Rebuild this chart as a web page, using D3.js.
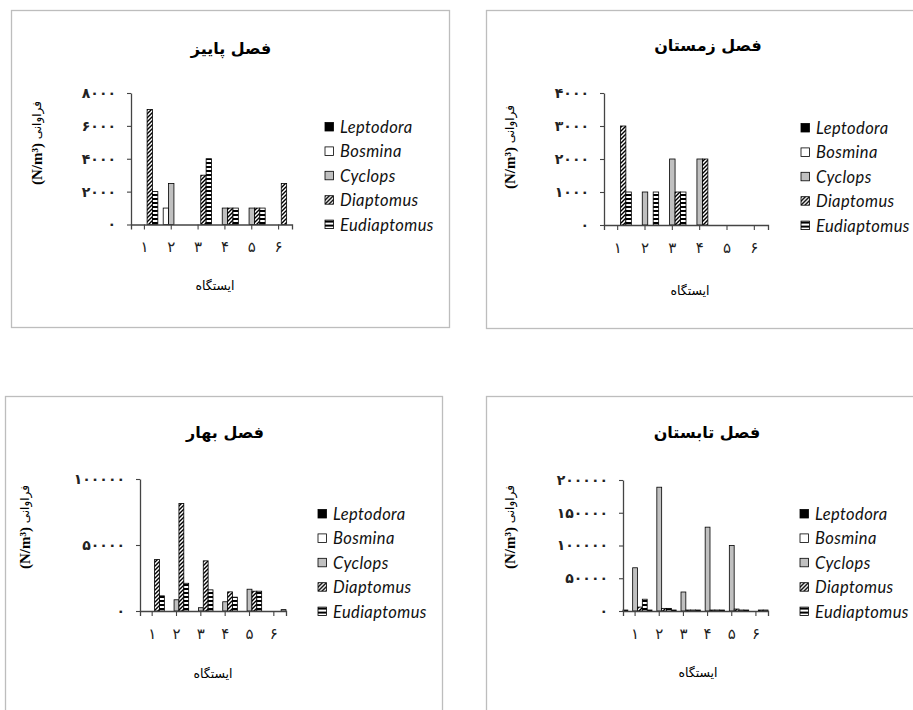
<!DOCTYPE html>
<html>
<head>
<meta charset="utf-8">
<script src="https://cdn.jsdelivr.net/npm/d3@7"></script>
<style>
  body { margin: 0; background: #fff; }
  .axis path, .axis line { stroke: #444; }
  .axis text { font-family: 'DejaVu Sans'; fill: #222; }
</style>
</head>
<body>
<div class="chart"></div>
<script>
// DATA ------------------------------------
const stations = ['1', '2', '3', '4', '5', '6']
const species = ['Leptodora', 'Bosmina', 'Cyclops', 'Diaptomus', 'Eudiaptomus']
const seasonTitles = ['فصل پاییز', 'فصل زمستان', 'فصل بهار', 'فصل تابستان']
const yTitle = 'فراوانی'
const yUnit = '(N/m³)'
const xTitle = 'ایستگاه'

// autumn (پاییز)
const autumnLeptodora = [0, 0, 0, 0, 0, 0]
const autumnBosmina = [0, 1000, 0, 0, 0, 0]
const autumnCyclops = [0, 2500, 0, 1000, 1000, 0]
const autumnDiaptomus = [7000, 0, 3000, 1000, 1000, 2500]
const autumnEudiaptomus = [2000, 0, 4000, 1000, 1000, 0]
const autumnTicks = [0, 2000, 4000, 6000, 8000]

// winter (زمستان)
const winterLeptodora = [0, 0, 0, 0, 0, 0]
const winterBosmina = [0, 0, 0, 0, 0, 0]
const winterCyclops = [0, 1000, 2000, 2000, 0, 0]
const winterDiaptomus = [3000, 0, 1000, 2000, 0, 0]
const winterEudiaptomus = [1000, 1000, 1000, 0, 0, 0]
const winterTicks = [0, 1000, 2000, 3000, 4000]

// spring (بهار)
const springLeptodora = [0, 0, 0, 0, 0, 0]
const springBosmina = [0, 0, 0, 0, 0, 0]
const springCyclops = [0, 8500, 2500, 7000, 16500, 0]
const springDiaptomus = [39000, 81500, 38000, 14500, 15000, 0]
const springEudiaptomus = [11500, 21000, 16000, 10500, 15000, 1000]
const springTicks = [0, 50000, 100000]

// summer (تابستان)
const summerLeptodora = [1500, 1500, 1500, 1500, 1500, 1500]
const summerBosmina = [0, 0, 0, 0, 0, 0]
const summerCyclops = [66000, 189000, 29000, 128000, 100000, 0]
const summerDiaptomus = [6000, 4000, 1500, 1500, 3000, 1500]
const summerEudiaptomus = [18000, 4000, 1500, 1500, 1500, 1500]
const summerTicks = [0, 50000, 100000, 150000, 200000]

const seasons = [
  { title: seasonTitles[0], ticks: autumnTicks,
    series: [autumnLeptodora, autumnBosmina, autumnCyclops, autumnDiaptomus, autumnEudiaptomus] },
  { title: seasonTitles[1], ticks: winterTicks,
    series: [winterLeptodora, winterBosmina, winterCyclops, winterDiaptomus, winterEudiaptomus] },
  { title: seasonTitles[2], ticks: springTicks,
    series: [springLeptodora, springBosmina, springCyclops, springDiaptomus, springEudiaptomus] },
  { title: seasonTitles[3], ticks: summerTicks,
    series: [summerLeptodora, summerBosmina, summerCyclops, summerDiaptomus, summerEudiaptomus] },
]

// LAYOUT ----------------------------------
const panels = [
  { x: 11, y: 10, w: 438, h: 317, left: 120, right: 281, top: 83, bottom: 214.5,
    titleX: 220, titleY: 38, legendX: 314, legendY: 117, ylabX: 26, ylabY: 133, xtitleX: 204, xtitleY: 275 },
  { x: 486, y: 10, w: 440, h: 318, left: 118, right: 282, top: 83, bottom: 215,
    titleX: 222, titleY: 35, legendX: 315, legendY: 118, ylabX: 24, ylabY: 137, xtitleX: 204, xtitleY: 280 },
  { x: 5, y: 396, w: 437, h: 330, left: 135, right: 281, top: 83, bottom: 215,
    titleX: 220, titleY: 36, legendX: 313, legendY: 118, ylabX: 20, ylabY: 131, xtitleX: 208, xtitleY: 277 },
  { x: 486, y: 396, w: 440, h: 330, left: 137, right: 282, top: 84, bottom: 215,
    titleX: 221, titleY: 36, legendX: 314, legendY: 118, ylabX: 24, ylabY: 131, xtitleX: 212, xtitleY: 276 },
]
const fills = ['#000', '#fff', '#c0c0c0', 'url(#diag)', 'url(#horiz)']
const legendStep = 24.4

const faDigits = s => String(s).replace(/\d/g, d => '۰۱۲۳۴۵۶۷۸۹'[d])

// CHART INIT ------------------------------
const svg = d3.select('.chart')
  .append('svg')
  .attr('width', 913)
  .attr('height', 710)
  .style('display', 'block')

const defs = svg.append('defs')
const diag = defs.append('pattern')
  .attr('id', 'diag')
  .attr('patternUnits', 'userSpaceOnUse')
  .attr('width', 4).attr('height', 4)
diag.append('rect').attr('width', 4).attr('height', 4).attr('fill', '#fff')
diag.append('path')
  .attr('d', 'M-1,1 l2,-2 M0,4 l4,-4 M3,5 l2,-2')
  .attr('stroke', '#000').attr('stroke-width', 1.4)

const horiz = defs.append('pattern')
  .attr('id', 'horiz')
  .attr('patternUnits', 'userSpaceOnUse')
  .attr('width', 4).attr('height', 4)
horiz.append('rect').attr('width', 4).attr('height', 4).attr('fill', '#fff')
horiz.append('rect').attr('width', 4).attr('height', 2).attr('fill', '#000')

// PANELS ----------------------------------
seasons.forEach((season, k) => {
  const p = panels[k]
  const g = svg.append('g').attr('transform', `translate(${p.x},${p.y})`)

  g.append('rect')
    .attr('x', 0.5).attr('y', 0.5)
    .attr('width', p.w).attr('height', p.h)
    .attr('fill', '#fff')
    .attr('stroke', '#bdbdbd')
    .attr('stroke-width', 1.3)

  const xScale = d3.scaleBand()
    .domain(stations)
    .range([p.left, p.right])
    .paddingInner(0)

  const xSub = d3.scaleBand()
    .domain(species)
    .range([0, xScale.bandwidth()])

  const yScale = d3.scaleLinear()
    .domain([0, d3.max(season.ticks)])
    .range([p.bottom, p.top])

  // bars
  species.forEach((sp, j) => {
    g.append('g')
      .selectAll('rect')
      .data(season.series[j].map((v, i) => ({ station: stations[i], value: v })).filter(d => d.value > 0))
      .enter()
      .append('rect')
      .attr('x', d => xScale(d.station) + xSub(sp))
      .attr('y', d => yScale(d.value))
      .attr('width', xSub.bandwidth())
      .attr('height', d => yScale(0) - yScale(d.value))
      .attr('fill', fills[j])
      .attr('stroke', '#000')
      .attr('stroke-width', 0.8)
  })

  // axes
  const yAxis = d3.axisLeft(yScale)
    .tickValues(season.ticks)
    .tickSize(4)
    .tickSizeOuter(0)
    .tickPadding(11)
    .tickFormat(faDigits)

  const xAxis = d3.axisBottom(xScale)
    .tickSize(5)
    .tickSizeOuter(5)
    .tickPadding(12)
    .tickFormat(faDigits)

  g.append('g')
    .attr('class', 'axis y-axis')
    .attr('transform', `translate(${p.left},0)`)
    .call(yAxis)
    .selectAll('text')
    .attr('font-size', 14)
    .attr('font-weight', 'bold')
    .attr('letter-spacing', 0.3)

  g.append('g')
    .attr('class', 'axis x-axis')
    .attr('transform', `translate(0,${p.bottom})`)
    .call(xAxis)
    .selectAll('text')
    .attr('font-size', 15)

  g.selectAll('.axis path').attr('stroke-width', 1.3)
  g.selectAll('.axis line').attr('stroke-width', 1.1)

  // titles
  g.append('text')
    .attr('x', p.titleX)
    .attr('y', p.titleY)
    .attr('text-anchor', 'middle')
    .attr('dominant-baseline', 'central')
    .attr('font-family', 'DejaVu Sans')
    .attr('font-weight', 'bold')
    .attr('font-size', 16)
    .text(season.title)

  g.append('text')
    .attr('x', p.xtitleX)
    .attr('y', p.xtitleY)
    .attr('text-anchor', 'middle')
    .attr('dominant-baseline', 'central')
    .attr('font-family', 'DejaVu Sans')
    .attr('font-size', 12.5)
    .text(xTitle)

  const yLabel = g.append('text')
    .attr('transform', `translate(${p.ylabX},${p.ylabY}) rotate(-90)`)
    .attr('text-anchor', 'middle')
    .attr('dominant-baseline', 'central')
  yLabel.append('tspan')
    .attr('font-family', 'Liberation Serif')
    .attr('font-weight', 'bold')
    .attr('font-size', 15)
    .text(yUnit + ' ')
  yLabel.append('tspan')
    .attr('font-family', 'DejaVu Sans')
    .attr('font-size', 12)
    .text(yTitle)

  // legend
  const legend = g.append('g')
    .attr('transform', `translate(${p.legendX},${p.legendY})`)
  species.forEach((sp, j) => {
    const row = legend.append('g').attr('transform', `translate(0,${j * legendStep})`)
    row.append('rect')
      .attr('x', 0).attr('y', -4.5)
      .attr('width', 8.5).attr('height', 8.5)
      .attr('fill', fills[j])
      .attr('stroke', '#000')
      .attr('stroke-width', 0.8)
    row.append('text')
      .attr('x', 15)
      .attr('y', 0)
      .attr('dominant-baseline', 'central')
      .attr('font-family', 'Lato')
      .attr('font-style', 'italic')
      .attr('font-size', 16.5)
      .attr('letter-spacing', 0.4)
      .attr('fill', '#111')
      .text(sp)
  })
})
</script>
</body>
</html>
